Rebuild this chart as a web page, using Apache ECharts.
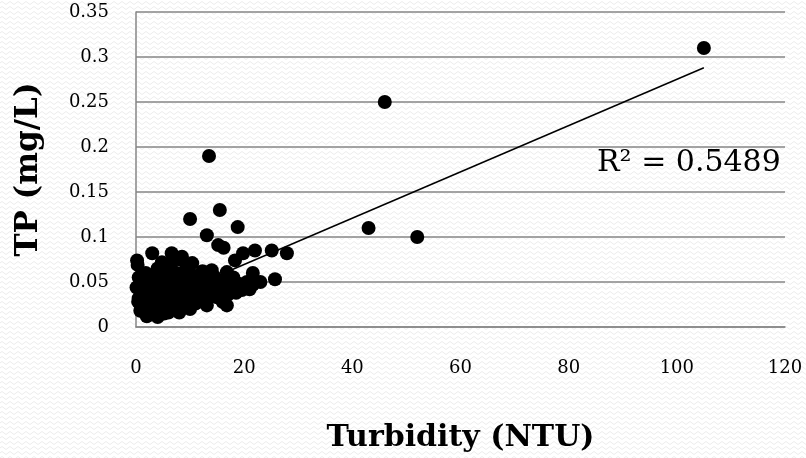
<!DOCTYPE html>
<html lang="en">
<head>
    <meta charset="UTF-8">
    <title>TP vs Turbidity</title>
    <script src="https://cdn.jsdelivr.net/npm/echarts@6/dist/echarts.min.js"></script>
    <style>
        html, body{
            margin: 0;
            padding: 0;
            background-color: #ffffff;
            background-image: url("data:image/svg+xml;utf8,<svg xmlns='http://www.w3.org/2000/svg' width='8' height='5'><path d='M0 3 Q2 0 4 3 T8 3' fill='none' stroke='%23ececec' stroke-width='1'/></svg>");
        }
        #main{
            width: 806px;
            height: 458px;
        }
    </style>
</head>
<body>
<div id="main"></div>
<script>
    // turbidity (NTU) vs total phosphorus (mg/L)
    var points = [
        [105, 0.31], [46, 0.25], [13.5, 0.19], [43, 0.11], [52, 0.10],
        [10, 0.12], [15.5, 0.13], [18.8, 0.111], [13.1, 0.102], [15.2, 0.091],
        [16.2, 0.088], [22, 0.085], [25.1, 0.085], [27.9, 0.082], [19.8, 0.082],
        [18.3, 0.074], [25.7, 0.053], [21.6, 0.06], [21.6, 0.047], [16.8, 0.024],
        [13.1, 0.024], [14, 0.063], [16.8, 0.061], [19.6, 0.041], [3, 0.082],
        [0.2, 0.074], [0.3, 0.069], [6.6, 0.082], [8.5, 0.078], [10.4, 0.071],
        [0.1, 0.044], [0.5, 0.032], [2, 0.012], [4, 0.011], [16, 0.028],
        [0.5, 0.055], [1, 0.035], [1.2, 0.025], [0.8, 0.018], [1.5, 0.048],
        [2, 0.028], [2.5, 0.038], [1.8, 0.06], [2.2, 0.02], [3, 0.045],
        [3.2, 0.03], [3.5, 0.018], [3.8, 0.055], [4, 0.065], [4.3, 0.04],
        [4.6, 0.025], [5, 0.05], [5, 0.033], [5.2, 0.015], [4.8, 0.072],
        [5.6, 0.06], [6, 0.042], [6.2, 0.028], [6.5, 0.07], [6.8, 0.05],
        [7, 0.036], [7.2, 0.02], [7.5, 0.06], [7.8, 0.044], [8, 0.03],
        [8.2, 0.075], [8.5, 0.055], [8.8, 0.038], [9, 0.022], [9.3, 0.065],
        [9.6, 0.048], [10, 0.032], [10.3, 0.058], [10.8, 0.042], [11, 0.026],
        [11.5, 0.05], [12, 0.036], [12.3, 0.062], [12.5, 0.045], [13, 0.03],
        [13.5, 0.052], [14, 0.04], [14.5, 0.056], [15, 0.033], [15.5, 0.048],
        [16, 0.04], [16.5, 0.052], [17, 0.036], [17.5, 0.045], [18, 0.055],
        [18.5, 0.038], [19, 0.048], [20, 0.044], [20.5, 0.05], [21, 0.042],
        [23, 0.05], [6, 0.016], [8, 0.016], [10, 0.02], [2.8, 0.05],
        [1, 0.022], [3, 0.024], [0.4, 0.028], [1.6, 0.016], [4.2, 0.03]
    ];
    // linear trend line end points
    var trend = [[0, 0.018], [105, 0.288]];
    var rSquared = 'R² = 0.5489';

    var chart = echarts.init(document.getElementById('main'));
    var serif = 'DejaVu Serif';
    chart.setOption({
        backgroundColor: 'transparent',
        animation: false,
        grid: {left: 136, right: 21, top: 12, bottom: 131},
        xAxis: {
            type: 'value',
            min: 0,
            max: 120,
            interval: 20,
            name: 'Turbidity (NTU)',
            nameLocation: 'middle',
            nameGap: 96,
            nameTextStyle: {fontFamily: serif, fontWeight: 'bold', fontSize: 30, color: '#000'},
            axisLine: {show: true, lineStyle: {color: '#868686', width: 1.5}},
            axisTick: {show: false},
            axisLabel: {fontFamily: serif, fontSize: 18, color: '#000', margin: 32},
            splitLine: {show: false}
        },
        yAxis: {
            type: 'value',
            min: 0,
            max: 0.35,
            interval: 0.05,
            name: 'TP (mg/L)',
            nameLocation: 'middle',
            nameGap: 92,
            nameTextStyle: {fontFamily: serif, fontWeight: 'bold', fontSize: 31, color: '#000'},
            axisLine: {show: true, lineStyle: {color: '#868686', width: 1.5}},
            axisTick: {show: false},
            axisLabel: {fontFamily: serif, fontSize: 18, color: '#000', margin: 27},
            splitLine: {show: true, lineStyle: {color: '#868686', width: 1.5}}
        },
        series: [{
            type: 'scatter',
            data: points,
            symbolSize: 14,
            itemStyle: {color: '#000', opacity: 1}
        }, {
            type: 'line',
            data: trend,
            showSymbol: false,
            z: 5,
            lineStyle: {color: '#000', width: 1.5}
        }],
        graphic: [{
            type: 'text',
            left: 597,
            top: 148,
            style: {text: rSquared, fontFamily: serif, fontSize: 30, fill: '#000'}
        }]
    });
</script>
</body>
</html>
